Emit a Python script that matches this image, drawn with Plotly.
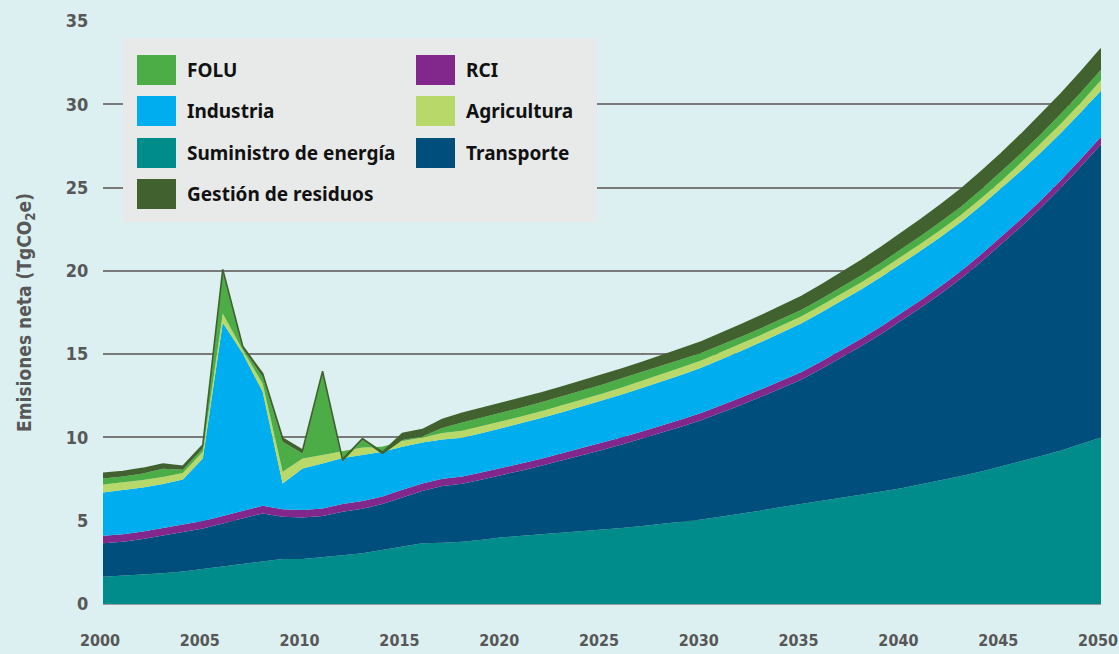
import plotly.graph_objects as go

years = list(range(2000, 2051))

suministro = [1.64,1.70,1.76,1.84,1.95,2.10,2.25,2.42,2.57,2.70,2.70,2.80,2.92,3.05,3.25,3.48,3.64,3.68,3.74,3.86,
              4.00,4.09,4.18,4.29,4.40,4.47,4.56,4.68,4.80,4.94,5.08,5.25,5.42,5.62,5.82,6.00,6.18,6.37,6.56,6.75,
              6.95,7.18,7.42,7.68,7.95,8.25,8.55,8.88,9.22,9.60,10.00]
transporte = [2.00,2.04,2.14,2.26,2.35,2.44,2.59,2.72,2.87,2.54,2.50,2.48,2.62,2.67,2.75,2.92,3.14,3.40,3.48,3.62,
              3.74,3.93,4.13,4.32,4.52,4.77,5.01,5.24,5.47,5.71,5.96,6.24,6.54,6.83,7.13,7.48,7.94,8.42,8.93,9.48,
              10.05,10.63,11.24,11.87,12.59,13.33,14.12,14.93,15.79,16.68,17.60]
rci = [0.46,0.45,0.45,0.45,0.45,0.45,0.45,0.45,0.46,0.45,0.44,0.45,0.46,0.46,0.45,0.46,0.45,0.44,0.43,0.43,
       0.42,0.43,0.43,0.44,0.44,0.44,0.44,0.44,0.44,0.44,0.44,0.44,0.45,0.45,0.45,0.45,0.45,0.45,0.45,0.45,
       0.45,0.45,0.45,0.45,0.45,0.45,0.45,0.45,0.45,0.45,0.45]
industria = [2.60,2.65,2.65,2.65,2.73,3.75,11.60,9.46,6.84,1.55,2.50,2.71,2.76,2.76,2.69,2.58,2.47,2.35,2.33,2.36,
             2.40,2.42,2.44,2.46,2.49,2.52,2.56,2.60,2.64,2.68,2.72,2.76,2.80,2.84,2.88,2.92,2.94,2.95,2.96,2.97,
             2.98,2.97,2.96,2.95,2.93,2.91,2.89,2.86,2.83,2.80,2.77]
agricultura = [0.48,0.46,0.44,0.42,0.38,0.40,0.55,0.20,0.50,0.70,0.60,0.50,0.40,0.45,0.30,0.35,0.30,0.40,0.42,0.41,
               0.40,0.40,0.40,0.41,0.41,0.42,0.43,0.43,0.44,0.44,0.44,0.44,0.44,0.43,0.43,0.43,0.43,0.43,0.42,0.42,
               0.42,0.42,0.42,0.42,0.44,0.46,0.49,0.52,0.55,0.58,0.62]
folu = [0.36,0.35,0.40,0.50,0.20,0.20,2.50,0.10,0.39,1.80,0.30,4.91,-0.60,0.45,-0.45,0.05,0.05,0.30,0.50,0.51,
        0.52,0.53,0.54,0.54,0.55,0.55,0.55,0.53,0.51,0.48,0.45,0.43,0.41,0.40,0.39,0.38,0.39,0.40,0.42,0.43,
        0.45,0.47,0.49,0.50,0.52,0.54,0.56,0.58,0.60,0.62,0.64]
residuos = [0.30,0.30,0.30,0.28,0.20,0.20,0.15,0.12,0.20,0.22,0.20,0.12,0.12,0.10,0.12,0.40,0.42,0.50,0.55,0.56,
            0.57,0.56,0.56,0.56,0.56,0.56,0.56,0.58,0.60,0.63,0.66,0.69,0.72,0.75,0.78,0.80,0.83,0.86,0.89,0.92,
            0.95,0.98,1.01,1.05,1.08,1.10,1.13,1.16,1.19,1.22,1.25]

# stacking order (bottom -> top)
series_names = ["Suministro de energía", "Transporte", "RCI", "Industria", "Agricultura", "FOLU", "Gestión de residuos"]
series_values = [suministro, transporte, rci, industria, agricultura, folu, residuos]
series_colors = ["#008C8A", "#004E7C", "#82288C", "#00AEEF", "#B8D96A", "#4CAD47", "#41612F"]

legend_col1 = ["FOLU", "Industria", "Suministro de energía", "Gestión de residuos"]
legend_col2 = ["RCI", "Agricultura", "Transporte"]

y_ticks = [0, 5, 10, 15, 20, 25, 30, 35]
x_ticks = list(range(2000, 2051, 5))

BG = "#DCEFF1"
GRID = "#7A7A7A"
TXT = "#575757"
TICKFONT = "DejaVu Sans Condensed, Roboto, sans-serif"

fig = go.Figure()
for name, vals, col in zip(series_names, series_values, series_colors):
    is_top = name == "Gestión de residuos"
    fig.add_trace(go.Scatter(
        x=years, y=vals, name=name, mode="lines", stackgroup="one",
        line=dict(width=1.6 if is_top else 0, color=col),
        fillcolor=col, showlegend=False, hoverinfo="x+y+name",
    ))

W, H = 1119, 654
ML, MR, MT, MB = 103, 18, 21, 50
pw, ph = W - ML - MR, H - MT - MB

def px(xp):
    return (xp - ML) / pw

def py(yp):
    return 1 - (yp - MT) / ph

shapes = [dict(type="rect", xref="paper", yref="paper",
               x0=px(123), x1=px(597), y0=py(222), y1=py(38),
               fillcolor="#E8EAE9", line=dict(width=0), layer="above")]
annotations = []
color_of = dict(zip(series_names, series_colors))
row_tops = [55, 96, 138, 179]
for col_names, sx, tx in [(legend_col1, 137, 185), (legend_col2, 416, 464)]:
    for i, nm in enumerate(col_names):
        yt = row_tops[i]
        shapes.append(dict(type="rect", xref="paper", yref="paper",
                           x0=px(sx), x1=px(sx + 39), y0=py(yt + 30), y1=py(yt),
                           fillcolor=color_of[nm], line=dict(width=0), layer="above"))
        annotations.append(dict(xref="paper", yref="paper", x=px(tx), y=py(yt + 15),
                                text=nm, showarrow=False, xanchor="left", yanchor="middle",
                                font=dict(family="Noto Sans", size=19, color="#111111", weight="bold")))

fig.update_layout(
    width=W, height=H,
    margin=dict(l=ML, r=MR, t=MT, b=MB, autoexpand=False),
    paper_bgcolor=BG, plot_bgcolor=BG,
    showlegend=False,
    shapes=shapes, annotations=annotations,
    xaxis=dict(range=[2000, 2050], tickvals=x_ticks, showgrid=False, zeroline=False, showline=False,
               automargin=False, ticklabeloverflow="allow", ticklabelshift=-3,
               ticks="outside", ticklen=22, tickcolor="rgba(0,0,0,0)",
               tickfont=dict(family=TICKFONT, size=16, color=TXT, weight="bold")),
    yaxis=dict(range=[0, 35], tickvals=y_ticks, showgrid=True, gridcolor=GRID, gridwidth=1.5,
               zeroline=True, zerolinecolor="#9A9A9A", zerolinewidth=1.5, showline=False,
               automargin=False,
               ticks="outside", ticklen=10, tickcolor="rgba(0,0,0,0)",
               tickfont=dict(family=TICKFONT, size=18, color=TXT, weight="bold"),
               title=dict(text="Emisiones neta (TgCO<sub>2</sub>e)", standoff=29,
                          font=dict(family=TICKFONT, size=19, color=TXT, weight="bold"))),
)

fig.write_html("out.html", config={"displayModeBar": False},
               post_script="document.body.style.margin='0px';document.body.style.background='%s';" % BG)
